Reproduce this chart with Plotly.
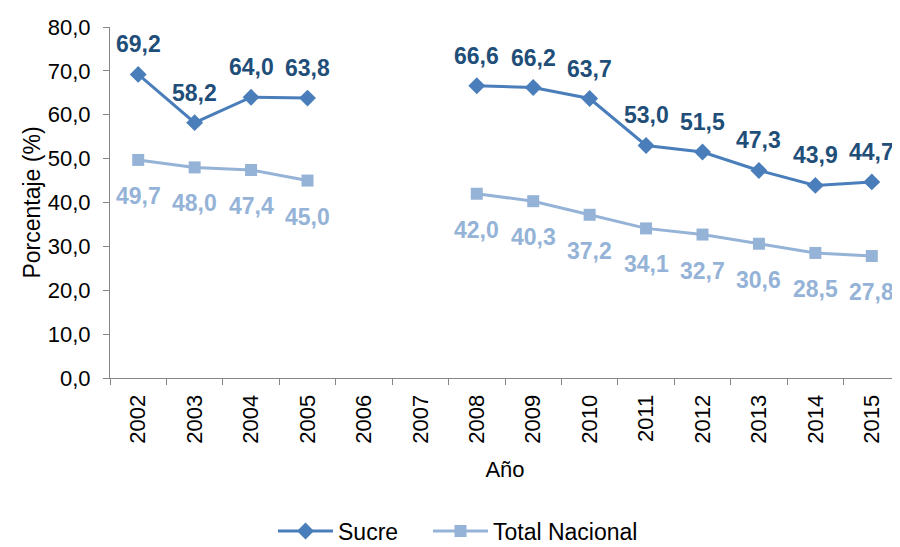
import plotly.graph_objects as go

years = [2002, 2003, 2004, 2005, 2006, 2007, 2008, 2009,
         2010, 2011, 2012, 2013, 2014, 2015]
sucre = [69.2, 58.2, 64.0, 63.8, None, None, 66.6, 66.2, 63.7, 53.0, 51.5, 47.3, 43.9, 44.7]
total = [49.7, 48.0, 47.4, 45.0, None, None, 42.0, 40.3, 37.2, 34.1, 32.7, 30.6, 28.5, 27.8]
y_ticks = [0, 10, 20, 30, 40, 50, 60, 70, 80]

c_sucre = "#4A7EBB"
c_sucre_lab = "#1F4E79"
c_total = "#95B3D7"
FONT = "Liberation Sans, Arial, sans-serif"
FS = 22

W, H = 892, 539

def fmt(v):
    return f"{v:.1f}".replace(".", ",")

fig = go.Figure()
fig.add_trace(go.Scatter(x=years, y=sucre, name="Sucre", mode="lines+markers",
                         line=dict(color=c_sucre, width=3),
                         marker=dict(symbol="diamond", size=13, color=c_sucre),
                         connectgaps=False, legend="legend"))
fig.add_trace(go.Scatter(x=years, y=total, name="Total Nacional", mode="lines+markers",
                         line=dict(color=c_total, width=3),
                         marker=dict(symbol="square", size=12, color=c_total),
                         connectgaps=False, legend="legend2"))

annotations = []
for x, v in zip(years, sucre):
    if v is not None:
        annotations.append(dict(x=x, y=v, text="<b>" + fmt(v) + "</b>", showarrow=False, yshift=30,
                                font=dict(family=FONT, size=23, color=c_sucre_lab),
                                xref="x", yref="y"))
for x, v in zip(years, total):
    if v is not None:
        annotations.append(dict(x=x, y=v, text="<b>" + fmt(v) + "</b>", showarrow=False, yshift=-36,
                                font=dict(family=FONT, size=23, color=c_total),
                                xref="x", yref="y"))

leg_common = dict(orientation="h", yref="container", y=16 / H, yanchor="middle",
                  xref="container", xanchor="left", font=dict(size=23), itemwidth=55,
                  bgcolor="rgba(0,0,0,0)")

fig.update_layout(
    width=W, height=H,
    margin=dict(l=102, r=0, t=19, b=169),
    paper_bgcolor="white", plot_bgcolor="white",
    separators=",.",
    font=dict(family=FONT, size=FS, color="black"),
    showlegend=True,
    legend=dict(leg_common, x=265 / W),
    legend2=dict(leg_common, x=420 / W),
    annotations=annotations,
    xaxis=dict(range=[years[0] - 0.5, years[-1] + 0.5], tickvals=years,
               ticktext=[str(y) for y in years], tickangle=-90, showgrid=False,
               showline=True, linecolor="#868686", linewidth=1,
               ticks="", zeroline=False, automargin=False, ticklabelstandoff=7,
               minor=dict(tick0=years[0] - 0.5, dtick=1, ticks="outside", ticklen=6,
                          tickcolor="#868686", showgrid=False),
               title=dict(text="Año", font=dict(size=FS), standoff=18),
               tickfont=dict(size=FS)),
    yaxis=dict(range=[0, 80], tickvals=y_ticks, tickformat=".1f", showgrid=False,
               showline=True, linecolor="#868686", linewidth=1,
               ticks="outside", ticklen=6, tickcolor="#868686", zeroline=False,
               automargin=False, ticklabelstandoff=8,
               title=dict(text="Porcentaje (%)", font=dict(size=23), standoff=0),
               tickfont=dict(size=FS)),
)

fig.write_html("out.html")
